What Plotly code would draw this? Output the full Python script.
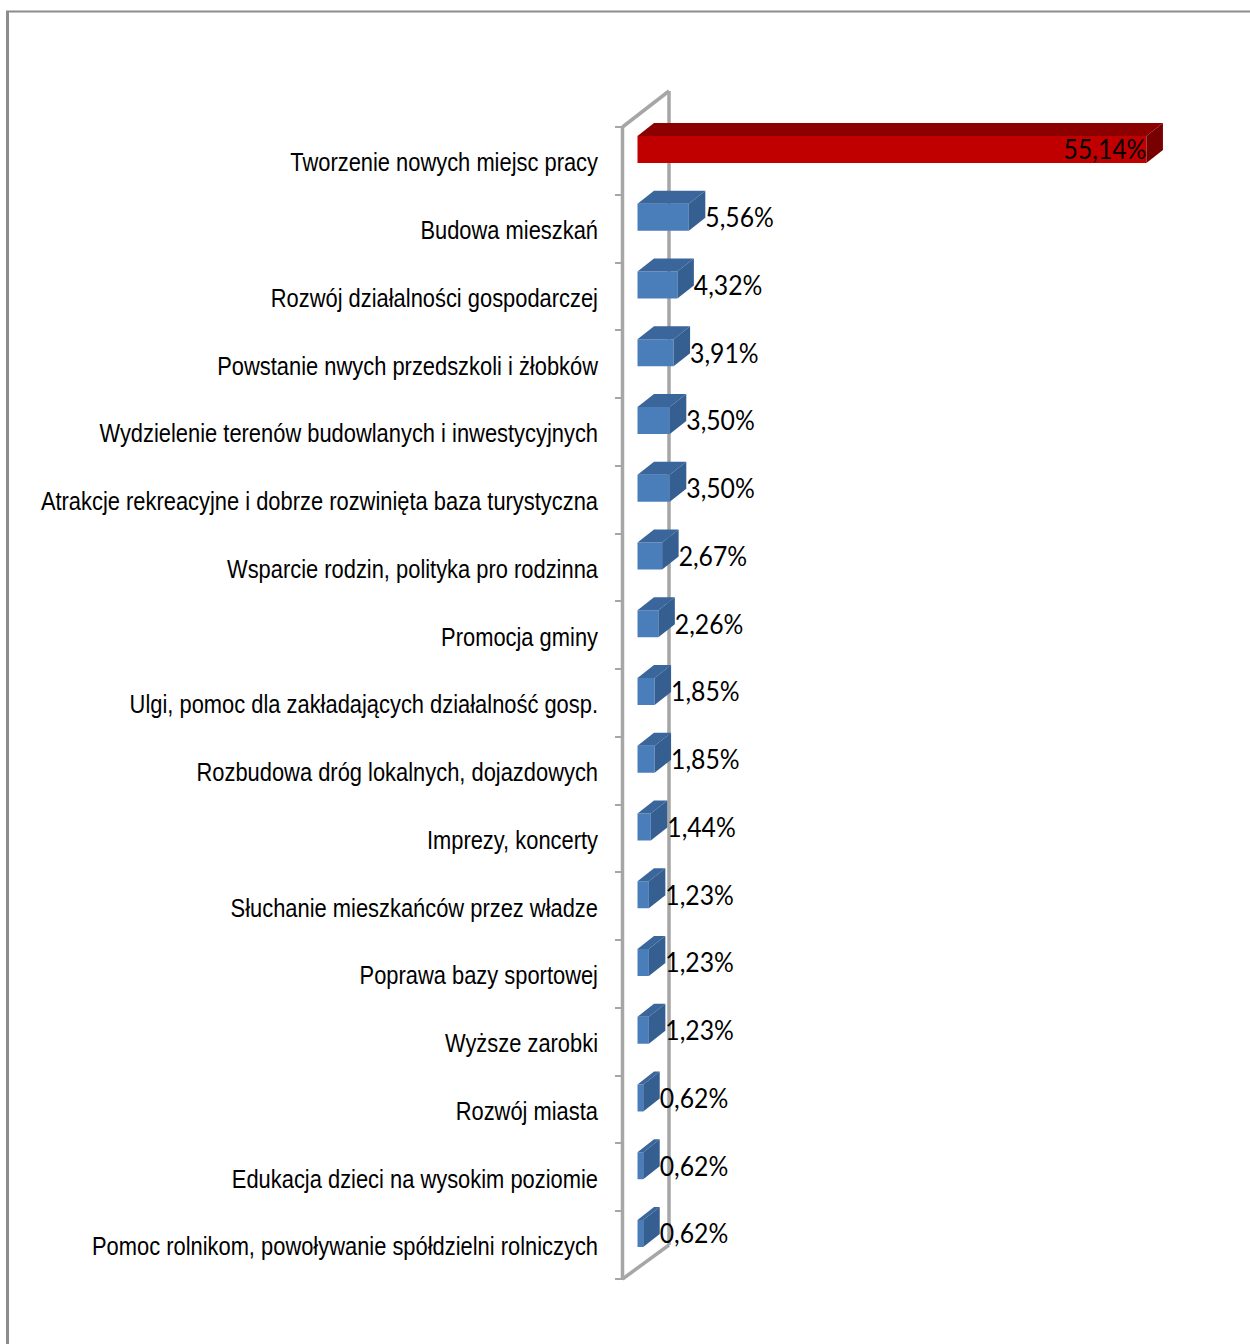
import plotly.graph_objects as go

categories = [
    "Tworzenie nowych miejsc pracy", "Budowa mieszkań", "Rozwój działalności gospodarczej",
    "Powstanie nwych przedszkoli i żłobków", "Wydzielenie terenów budowlanych i inwestycyjnych",
    "Atrakcje rekreacyjne i dobrze rozwinięta baza turystyczna", "Wsparcie rodzin, polityka pro rodzinna",
    "Promocja gminy", "Ulgi, pomoc dla zakładających działalność gosp.", "Rozbudowa dróg lokalnych, dojazdowych",
    "Imprezy, koncerty", "Słuchanie mieszkańców przez władze", "Poprawa bazy sportowej", "Wyższe zarobki",
    "Rozwój miasta", "Edukacja dzieci na wysokim poziomie", "Pomoc rolnikom, powoływanie spółdzielni rolniczych",
]
values = [55.14, 5.56, 4.32, 3.91, 3.50, 3.50, 2.67, 2.26, 1.85, 1.85, 1.44, 1.23, 1.23, 1.23, 0.62, 0.62, 0.62]

W, H = 1250, 1344
PX_PER_VALUE = 9.23
ZERO_PX = 637.5
ROW_PX = 67.75
ROW0_PX = 161.0
DEPTH_X = 16.5 / PX_PER_VALUE
DEPTH_Y = 13.0 / ROW_PX
FRONT_OFF = -25.0 / ROW_PX
FRONT_H = 27.0 / ROW_PX
LABEL_OFF = -8.5 / ROW_PX
CAT_OFF = 1.0 / ROW_PX
ranks = list(range(len(categories)))
CAT_FONT = "Liberation Sans, Arial, sans-serif"
VAL_FONT = "Lato, Liberation Sans, sans-serif"
WALL = "#a6a6a6"

fig = go.Figure()

front_colors = ["#c00000" if i == 0 else "#4a7ebb" for i in ranks]
fig.add_trace(go.Bar(
    x=values, y=ranks, orientation="h", width=FRONT_H, offset=FRONT_OFF,
    marker=dict(color=front_colors, line=dict(width=0)), showlegend=False,
))


def polys(idx, face):
    xs, ys = [], []
    for i in idx:
        v = values[i]
        yt = i + FRONT_OFF
        yb = yt + FRONT_H
        if face == "top":
            xs += [0, v, v + DEPTH_X, DEPTH_X, 0, None]
            ys += [yt, yt, yt - DEPTH_Y, yt - DEPTH_Y, yt, None]
        else:
            xs += [v, v + DEPTH_X, v + DEPTH_X, v, v, None]
            ys += [yt, yt - DEPTH_Y, yb - DEPTH_Y, yb, yt, None]
    return xs, ys


blue = ranks[1:]
for idx, face, col in [
    ([0], "top", "#8c0000"), ([0], "side", "#770000"),
    (blue, "top", "#3b669c"), (blue, "side", "#365f91"),
]:
    xs, ys = polys(idx, face)
    fig.add_trace(go.Scatter(
        x=xs, y=ys, mode="lines", fill="toself", fillcolor=col, line=dict(width=0, color=col),
        showlegend=False, hoverinfo="skip",
    ))

labels = [f"{v:.2f}%".replace(".", ",") for v in values]
fig.add_trace(go.Scatter(
    x=[v if i == 0 else v + DEPTH_X for i, v in enumerate(values)],
    y=[i + LABEL_OFF for i in ranks],
    yaxis="y2", mode="text", text=labels,
    textposition=["middle left" if i == 0 else "middle right" for i in ranks],
    textfont=dict(family=VAL_FONT, size=27.5, color="#000000"),
    cliponaxis=False, showlegend=False, hoverinfo="skip",
))

rng = [(H - ROW0_PX) / ROW_PX, -ROW0_PX / ROW_PX]


def px(x):
    return x / W


def py(y):
    return 1 - y / H


shapes = []
for (x0, y0, x1, y1) in [
    (622.5, 127, 669, 91), (669, 91, 669, 1245), (669, 1245, 622.5, 1279), (622.5, 126, 622.5, 1280),
]:
    shapes.append(dict(type="line", xref="paper", yref="paper", x0=px(x0), y0=py(y0), x1=px(x1), y1=py(y1),
                       line=dict(color=WALL, width=3.5), layer="below"))
for (x0, y0, x1, y1, w) in [(6, 11.5, 1250, 11.5, 2), (7.5, 11, 7.5, 1344, 3)]:
    shapes.append(dict(type="line", xref="paper", yref="paper", x0=px(x0), y0=py(y0), x1=px(x1), y1=py(y1),
                       line=dict(color="#8c8c8c", width=w), layer="below"))

fig.update_layout(
    width=W, height=H, margin=dict(l=0, r=0, t=0, b=0, autoexpand=False), autosize=False,
    paper_bgcolor="white", plot_bgcolor="rgba(0,0,0,0)", shapes=shapes,
    font=dict(family=CAT_FONT, color="#000000"), showlegend=False,
    xaxis=dict(range=[-ZERO_PX / PX_PER_VALUE, (W - ZERO_PX) / PX_PER_VALUE], visible=False, domain=[0, 1]),
    yaxis=dict(
        domain=[0, 1], range=rng, anchor="free", position=622.5 / W, showgrid=False, zeroline=False,
        showline=False,
        tickmode="array", tickvals=[i - 0.5 for i in ranks] + [len(ranks) - 0.5], ticktext=[""] * (len(ranks) + 1),
        ticks="outside", ticklen=8, tickwidth=2, tickcolor=WALL,
    ),
    yaxis2=dict(
        domain=[0, 1], range=rng, overlaying="y", anchor="free", position=598 / W, side="left",
        showgrid=False, zeroline=False, showline=False, ticks="",
        tickmode="array", tickvals=[i + CAT_OFF for i in ranks], ticktext=categories,
        tickfont=dict(family=CAT_FONT, size=26.7, color="#000000"),
    ),
)

POST = """
document.body.style.margin='0';
function squeeze(sel, s){
  document.querySelectorAll(sel).forEach(function(el){
    var x = parseFloat(el.getAttribute('x')) || 0;
    var t = el.getAttribute('transform') || '';
    el.setAttribute('transform', t + ' translate(' + x + ',0) scale(' + s + ',1) translate(' + (-x) + ',0)');
  });
}
squeeze('.y2tick text', 0.82);
squeeze('.textpoint text', 0.9);
"""
fig.write_html("out.html", config={"displayModeBar": False}, post_script=POST)
